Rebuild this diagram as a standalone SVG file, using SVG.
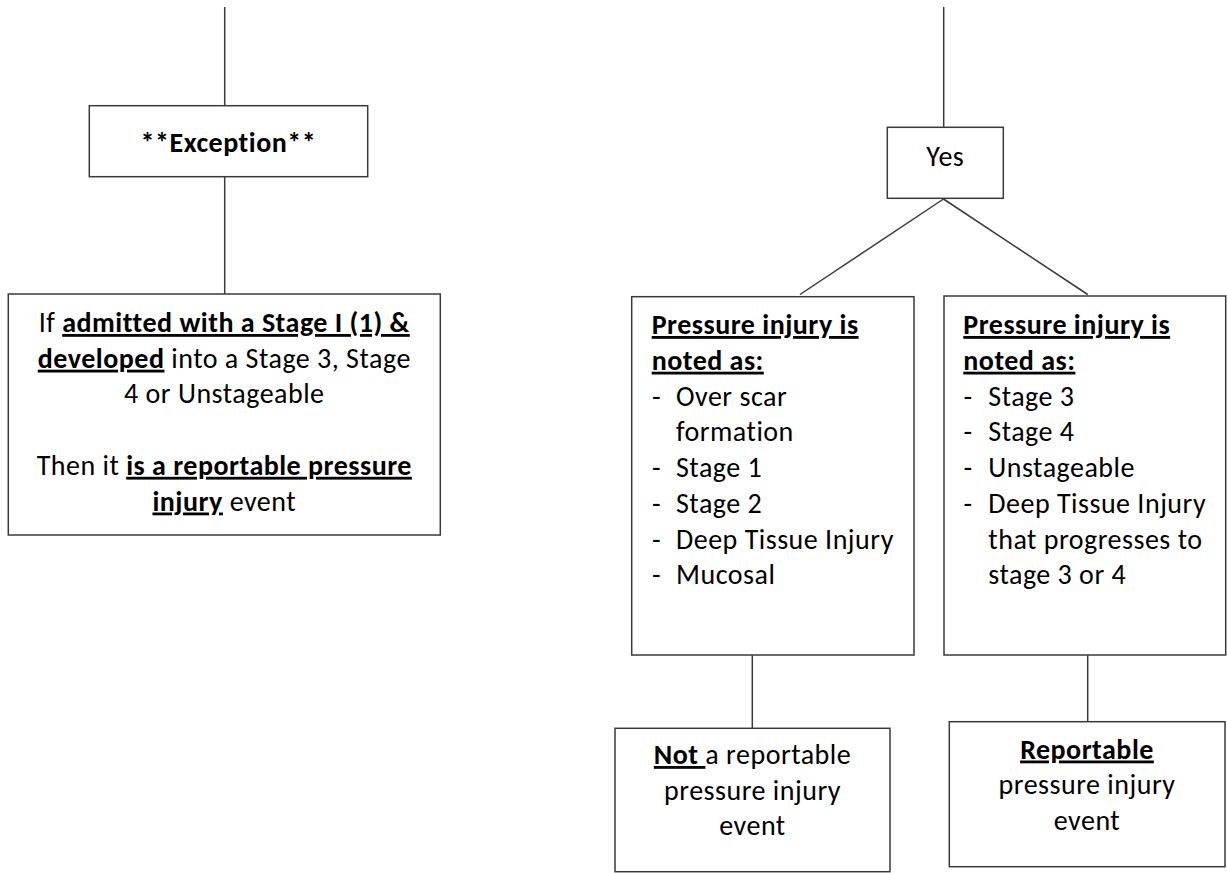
<svg xmlns="http://www.w3.org/2000/svg" width="1227" height="873" viewBox="0 0 1227 873">
<style>
.box{fill:#fff;stroke:#3a3a3a;stroke-width:1.5}
.ln{fill:none;stroke:#3a3a3a;stroke-width:1.5}
text{font-family:Carlito,Lato,"Liberation Sans",sans-serif;font-size:28px;letter-spacing:0.5px;fill:#000}
.c{text-anchor:middle}
.b{font-weight:bold}
.u{text-decoration:underline}
</style>
<rect width="1227" height="873" fill="#fff"/>
<g id="connectors">
<line class="ln" x1="224.7" y1="7" x2="224.7" y2="106"/>
<line class="ln" x1="224.7" y1="177" x2="224.7" y2="294"/>
<line class="ln" x1="943.7" y1="7" x2="943.7" y2="127"/>
<line class="ln" x1="943.5" y1="199" x2="800" y2="294.5"/>
<line class="ln" x1="943.5" y1="199" x2="1087.7" y2="294.5"/>
<line class="ln" x1="752.3" y1="655" x2="752.3" y2="728.3"/>
<line class="ln" x1="1087.7" y1="655" x2="1087.7" y2="721.7"/>
</g>
<g id="exception">
<rect class="box" x="89.3" y="105.7" width="278.4" height="71"/>
<text class="c b" x="228.4" y="152">**Exception**</text>
</g>
<g id="admitted">
<rect class="box" x="8.3" y="294" width="432" height="241"/>
<text class="c" x="224.3" y="332">If <tspan class="b u">admitted with a Stage I (1) &amp;</tspan></text>
<text class="c" x="224.3" y="367.7"><tspan class="b u">developed</tspan> into a Stage 3, Stage</text>
<text class="c" x="224.3" y="403.4">4 or Unstageable</text>
<text class="c" x="224.3" y="474.8">Then it <tspan class="b u">is a reportable pressure</tspan></text>
<text class="c" x="224.3" y="510.5"><tspan class="b u">injury</tspan> event</text>
</g>
<g id="yes">
<rect class="box" x="887.3" y="127.3" width="116" height="71"/>
<text class="c" x="945.3" y="166">Yes</text>
</g>
<g id="not-reportable-list">
<rect class="box" x="631.7" y="296.7" width="282.3" height="358.3"/>
<text class="b u" x="651.7" y="334">Pressure injury is</text>
<text class="b u" x="651.7" y="369.7">noted as:</text>
<text x="652" y="405.5">-</text><text x="676" y="405.5">Over scar</text>
<text x="676" y="441.2">formation</text>
<text x="652" y="477">-</text><text x="676" y="477">Stage 1</text>
<text x="652" y="512.7">-</text><text x="676" y="512.7">Stage 2</text>
<text x="652" y="548.5">-</text><text x="676" y="548.5">Deep Tissue Injury</text>
<text x="652" y="584.2">-</text><text x="676" y="584.2">Mucosal</text>
</g>
<g id="reportable-list">
<rect class="box" x="944" y="296" width="281.7" height="359"/>
<text class="b u" x="963.3" y="334">Pressure injury is</text>
<text class="b u" x="963.3" y="369.7">noted as:</text>
<text x="963.5" y="405.5">-</text><text x="988.3" y="405.5">Stage 3</text>
<text x="963.5" y="441.2">-</text><text x="988.3" y="441.2">Stage 4</text>
<text x="963.5" y="477">-</text><text x="988.3" y="477">Unstageable</text>
<text x="963.5" y="512.7">-</text><text x="988.3" y="512.7">Deep Tissue Injury</text>
<text x="988.3" y="548.5">that progresses to</text>
<text x="988.3" y="584.2">stage 3 or 4</text>
</g>
<g id="not-reportable">
<rect class="box" x="615" y="728.3" width="275" height="143.4"/>
<text class="c" x="752.5" y="764"><tspan class="b u">Not </tspan>a reportable</text>
<text class="c" x="752.5" y="799.5">pressure injury</text>
<text class="c" x="752.5" y="835.2">event</text>
</g>
<g id="reportable">
<rect class="box" x="949.3" y="721.7" width="275.7" height="145"/>
<text class="c b u" x="1087" y="758.5">Reportable</text>
<text class="c" x="1087" y="794.2">pressure injury</text>
<text class="c" x="1087" y="830">event</text>
</g>
</svg>
